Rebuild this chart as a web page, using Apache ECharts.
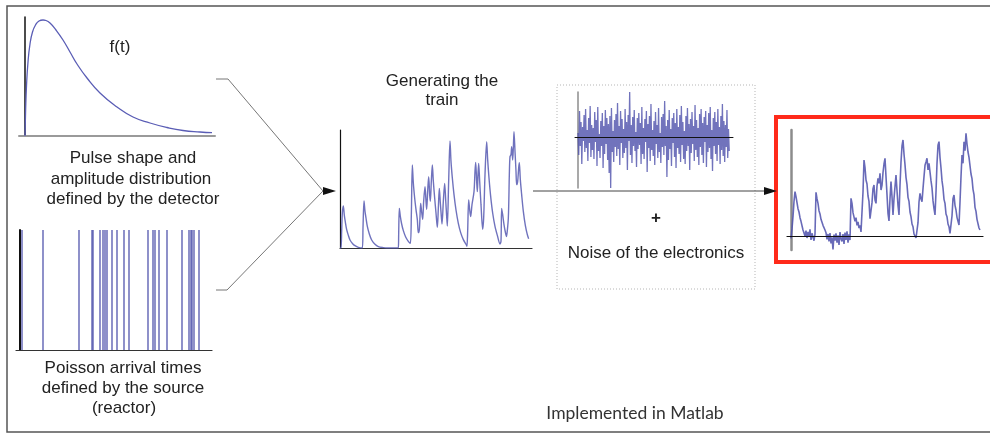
<!DOCTYPE html>
<html><head><meta charset="utf-8">
<script src="https://cdn.jsdelivr.net/npm/echarts@6/dist/echarts.min.js"></script>
<style>html,body{margin:0;padding:0;background:#fff}#c{width:990px;height:434px}</style>
</head><body><div id="c"></div>
<script>
// Pulse shape f(t)
const pulseT = [0, 0.6, 1.5, 3, 5, 7.5, 10.5, 14, 18, 21, 25, 31, 38, 45, 52, 62, 75, 92, 108, 125, 142, 158, 175, 187];
const pulseA = [0, 25, 50, 74, 92, 104, 111, 115, 116, 115.5, 113, 106, 96, 84, 72, 58, 43, 29, 19, 13, 8.5, 5.5, 4, 3.3];

// Poisson arrival times
const arrivalT = [2, 23, 59, 72, 73, 80, 83, 85, 87, 92, 97, 104, 109, 128, 133, 135, 139, 147, 162, 169, 171, 172, 174, 179];

// Generated pulse train
const trainT = [0,3,5,7,10,13,16,20,25,30,38,45,55,67,69,72,75,78,82,88,95,105,115,130,140,175,176,178,181,185,190,197,205,211,
214,217,220,224,228,232,235,238,240,242,245,248,251,255,258,260,263,266,269,271,274,277,280,284,288,292,295,298,301,304,306,310,314,317,320,322,326,330,333,337,342,348,355,362,370,380,
381,383,386,389,392,396,402,405,407,410,412,414,416,419,423,428,431,435,440,443,447,452,458,465,472,480,483,485,488,492,496,500,
502,505,508,510,513,515,518,520,522,525,528,530,533,536,538,541,545,550,556,562,566];
const trainA = [0,0,50,105,126,98,78,55,38,24,13,7,2,0,60,141,110,90,65,42,24,11,4,1,0,0,40,119,95,72,52,33,20,14,
100,249,195,150,115,85,46,55,95,134,108,86,140,184,140,116,170,214,160,140,200,249,200,150,105,62,120,179,135,95,72,140,194,145,95,66,200,321,260,210,160,114,74,46,25,8,
5,50,144,115,94,130,169,230,257,200,169,220,254,200,130,56,90,220,319,265,210,155,105,65,38,12,20,119,100,70,48,34,
34,90,220,274,280,304,264,300,349,290,230,190,200,240,256,205,160,110,68,40,28];

// Electronics noise samples
const noiseStep = 0.76;
const noise = [4,-18,26,-9,15,-27,10,-4,22,-15,28,-11,7,-24,19,-6,31,-20,12,-13,
9,-22,25,-5,17,-29,30,-14,3,-21,16,-9,24,-31,11,-17,27,-7,19,-23,
13,-36,21,-51,29,-15,6,-25,17,-10,23,-19,34,-12,11,-28,26,-6,18,-21,
8,-16,28,-11,15,-33,22,-4,45,-18,12,-26,20,-9,27,-14,5,-30,19,-12,
24,-8,14,-27,30,-17,9,-22,18,-5,26,-35,13,-11,21,-24,33,-13,7,-19,
16,-28,25,-7,12,-21,29,-15,4,-26,20,-10,23,-18,36,-9,11,-40,17,-23,
27,-12,8,-29,19,-6,24,-20,14,-31,28,-11,10,-17,22,-25,31,-8,15,-22,
6,-27,21,-14,29,-9,13,-33,18,-16,25,-7,11,-24,32,-13,17,-20,9,-28,
23,-10,28,-18,14,-26,20,-5,26,-30,12,-15,24,-11,30,-22,7,-34,19,-9,
25,-17,15,-24,28,-8,10,-27,21,-13,33,-19,16,-25,12,-10,27,-21,8,-14];

// Final signal (train + noise)
const finalStep = 3;
const finalSignal = [-7,22,58,104,133,118,100,82,72,55,44,38,18,24,0,16,-6,12,-2,20,-12,8,14,-14,6,
131,112,98,76,66,50,44,32,28,18,
10,-10,6,-16,9,-22,-4,-40,4,-14,8,-20,2,-27,12,-9,-16,6,-24,10,-12,14,-20,5,-12,
113,98,70,64,44,55,32,42,24,32,12,16,
132,228,205,168,156,120,104,52,48,
100,142,153,108,98,150,173,158,188,138,152,190,216,233,178,124,68,45,112,163,118,63,112,148,183,136,92,63,152,222,270,288,246,214,176,154,116,104,72,58,36,28,6,12,-6,-8,
40,102,128,112,103,142,178,212,222,233,198,218,213,166,144,106,82,63,132,218,272,283,236,204,166,144,110,98,66,58,36,28,8,4,
60,112,123,92,78,56,44,33,102,178,243,218,283,256,308,276,252,236,233,186,172,140,124,86,74,50,44,24,18];

const BLUE = '#4d50ab';
const FONT = '"Liberation Sans", Arial, sans-serif';

function hid(){return {show:false};}
function vAxis(grid, min, max, lineColor, lineWidth, z){
  return {gridIndex:grid, type:'value', min:min, max:max, z:z||0,
    axisLine:{show:true, onZero:true, lineStyle:{color:lineColor, width:lineWidth}},
    axisTick:hid(), axisLabel:hid(), splitLine:hid()};
}

const chart = echarts.init(document.getElementById('c'), null, {renderer:'canvas'});

const txt = (text, x, y, size, weight) => ({
  type:'text', z:10,
  style:{text:text, x:x, y:y, font: (weight||'normal')+' '+(size||17)+'px '+FONT, fill:'#222', textAlign:'center', textVerticalAlign:'middle'}
});

chart.setOption({
  animation:false,
  backgroundColor:'#fff',
  grid:[
    {left:19, top:17, width:196, height:119},
    {left:16, top:230, width:196, height:120},
    {left:340, top:130, width:192, height:118},
    {left:575, top:92, width:158, height:96},
    {left:787, top:130, width:196, height:120}
  ],
  xAxis:[
    vAxis(0, -6, 190, '#9a9a9a', 2),
    vAxis(1, -4, 192, '#333', 1.2),
    vAxis(2, 0, 576, '#333', 1.2),
    vAxis(3, -3, 155, '#111', 1, 5),
    vAxis(4, -12, 576, '#111', 1.2, 5)
  ],
  yAxis:[
    vAxis(0, 0, 119, '#111', 1.5),
    vAxis(1, 0, 1, '#111', 2),
    vAxis(2, 0, 354, '#111', 1.2),
    vAxis(3, -51, 45, '#8c8c8c', 1.5),
    vAxis(4, -42, 318, '#8c8c8c', 2.5)
  ],
  series:[
    {type:'line', xAxisIndex:0, yAxisIndex:0, smooth:true, showSymbol:false,
     lineStyle:{color:'#5a5db5', width:1.3}, data: pulseT.map((t,i)=>[t, pulseA[i]])},
    {type:'bar', xAxisIndex:1, yAxisIndex:1, barWidth:1.6,
     itemStyle:{color:'#4f52ab', opacity:0.8}, data: arrivalT.map(t=>[t,1])},
    {type:'line', xAxisIndex:2, yAxisIndex:2, smooth:0.3, showSymbol:false,
     lineStyle:{color:'#5659b2', width:1.4, opacity:0.85}, data: trainT.map((t,i)=>[t, trainA[i]])},
    {type:'line', xAxisIndex:3, yAxisIndex:3, showSymbol:false,
     lineStyle:{color:BLUE, width:1.3, opacity:0.8}, data: noise.map((v,i)=>[i*noiseStep, v])},
    {type:'line', xAxisIndex:4, yAxisIndex:4, showSymbol:false,
     lineStyle:{color:BLUE, width:1.6, opacity:0.85}, data: finalSignal.map((v,i)=>[i*finalStep, v])}
  ],
  graphic:[
    {type:'rect', shape:{x:7, y:6, width:1000, height:426}, style:{fill:null, stroke:'#555', lineWidth:1.5}, z:1},
    {type:'rect', shape:{x:557, y:85, width:198, height:204}, style:{fill:null, stroke:'#b5b5b5', lineWidth:1, lineDash:[1,2]}, z:1},
    {type:'rect', shape:{x:776, y:117, width:230, height:145}, style:{fill:null, stroke:'#ff2a1a', lineWidth:4}, z:1},
    {type:'polyline', shape:{points:[[216,79],[228,79],[323,191]]}, style:{fill:null, stroke:'#777', lineWidth:1}, z:1},
    {type:'polyline', shape:{points:[[216,290],[227,290],[323,191]]}, style:{fill:null, stroke:'#777', lineWidth:1}, z:1},
    {type:'polygon', shape:{points:[[323,187],[336,191],[323,195]]}, style:{fill:'#111'}, z:2},
    {type:'polyline', shape:{points:[[533,191],[766,191]]}, style:{fill:null, stroke:'#444', lineWidth:1}, z:1},
    {type:'polygon', shape:{points:[[764,187],[777,191],[764,195]]}, style:{fill:'#111'}, z:2},
    txt('f(t)', 120, 47, 17),
    txt('Pulse shape and', 133, 158, 17),
    txt('amplitude distribution', 131, 179, 17),
    txt('defined by the detector', 133, 199, 17),
    txt('Poisson arrival times', 123, 368, 17),
    txt('defined by the source', 123, 388, 17),
    txt('(reactor)', 124, 408, 17),
    txt('Generating the', 442, 81, 17),
    txt('train', 442, 100, 17),
    txt('+', 656, 218, 17, 'bold'),
    txt('Noise of the electronics', 656, 253, 17),
    {type:'text', z:10, style:{text:'Implemented in Matlab', x:635, y:413, font:'17.5px Lato, "Open Sans", sans-serif', fill:'#333', textAlign:'center', textVerticalAlign:'middle'}}
  ]
});
</script>
</body></html>
